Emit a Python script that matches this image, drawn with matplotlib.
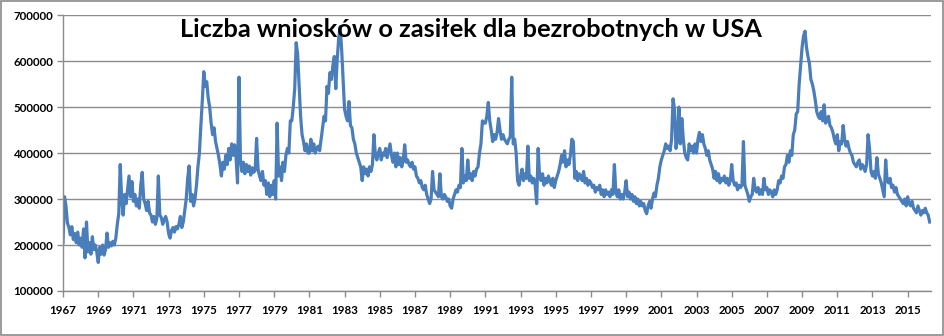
import numpy as np
import matplotlib
matplotlib.use("Agg")
from matplotlib import pyplot as plt
from matplotlib.patches import Rectangle

# weekly initial jobless claims, read off the chart roughly once a month (thousands)
years = list(range(1967, 2017))
claims = [
    [205, 305, 285, 248, 238, 222, 240, 212, 225, 205, 228, 200],  # 1967
    [215, 195, 235, 172, 250, 185, 205, 180, 218, 190, 200, 185],  # 1968
    [162, 195, 180, 200, 178, 190, 226, 195, 205, 198, 208, 200],  # 1969
    [215, 245, 268, 375, 300, 265, 310, 290, 320, 350, 305, 338],  # 1970
    [295, 310, 285, 300, 280, 330, 358, 300, 290, 275, 295, 270],  # 1971
    [265, 250, 262, 245, 258, 350, 265, 260, 245, 255, 262, 250],  # 1972
    [225, 215, 232, 238, 228, 240, 235, 245, 262, 238, 250, 275],  # 1973
    [300, 345, 372, 295, 310, 285, 300, 330, 370, 400, 460, 515],  # 1974
    [577, 545, 555, 520, 500, 465, 440, 455, 425, 410, 395, 375],  # 1975
    [350, 380, 365, 395, 375, 410, 385, 420, 395, 418, 390, 335],  # 1976
    [565, 385, 360, 380, 355, 375, 360, 372, 352, 368, 358, 362],  # 1977
    [432, 365, 350, 340, 360, 330, 340, 310, 335, 305, 330, 310],  # 1978
    [340, 300, 465, 350, 370, 340, 380, 360, 395, 410, 400, 470],  # 1979
    [470, 500, 540, 640, 615, 545, 480, 440, 425, 405, 420, 400],  # 1980
    [400, 430, 405, 420, 400, 410, 415, 405, 430, 455, 480, 470],  # 1981
    [545, 530, 575, 560, 590, 610, 540, 605, 650, 675, 625, 560],  # 1982
    [495, 480, 470, 512, 460, 455, 430, 420, 400, 390, 380, 370],  # 1983
    [340, 370, 355, 365, 350, 370, 360, 375, 440, 395, 385, 400],  # 1984
    [410, 385, 400, 395, 410, 390, 405, 420, 395, 380, 400, 370],  # 1985
    [400, 375, 390, 370, 385, 418, 380, 385, 375, 370, 380, 365],  # 1986
    [370, 350, 345, 335, 340, 325, 320, 330, 310, 300, 290, 300],  # 1987
    [360, 320, 315, 310, 305, 355, 305, 300, 310, 305, 295, 300],  # 1988
    [285, 280, 300, 310, 320, 315, 330, 325, 410, 335, 350, 340],  # 1989
    [385, 345, 355, 340, 360, 350, 365, 370, 400, 420, 470, 465],  # 1990
    [465, 480, 510, 470, 450, 425, 440, 430, 445, 475, 450, 430],  # 1991
    [440, 430, 425, 420, 430, 435, 565, 420, 430, 400, 340, 330],  # 1992
    [350, 365, 340, 355, 345, 415, 340, 350, 335, 345, 330, 290],  # 1993
    [410, 350, 340, 355, 330, 345, 335, 350, 340, 330, 345, 325],  # 1994
    [340, 350, 360, 375, 395, 380, 405, 370, 385, 375, 395, 430],  # 1995
    [425, 345, 360, 340, 355, 350, 340, 360, 335, 345, 330, 340],  # 1996
    [335, 325, 330, 315, 325, 320, 330, 310, 320, 305, 320, 310],  # 1997
    [315, 305, 320, 310, 375, 315, 305, 320, 300, 310, 300, 315],  # 1998
    [340, 305, 315, 300, 310, 295, 305, 290, 300, 285, 295, 285],  # 1999
    [290, 275, 268, 285, 295, 280, 300, 313, 305, 330, 345, 370],  # 2000
    [385, 395, 405, 420, 410, 415, 405, 430, 518, 495, 410, 430],  # 2001
    [500, 420, 475, 430, 400, 390, 385, 420, 405, 415, 400, 420],  # 2002
    [400, 430, 445, 425, 440, 420, 410, 395, 405, 385, 375, 365],  # 2003
    [345, 360, 340, 355, 335, 345, 340, 350, 335, 345, 330, 340],  # 2004
    [375, 340, 330, 335, 320, 330, 325, 330, 425, 330, 320, 310],  # 2005
    [295, 305, 310, 345, 320, 315, 325, 310, 320, 310, 345, 320],  # 2006
    [325, 310, 320, 315, 305, 320, 310, 320, 340, 335, 350, 345],  # 2007
    [370, 375, 395, 380, 405, 395, 440, 450, 485, 490, 550, 590],  # 2008
    [630, 655, 665, 630, 610, 595, 560, 550, 535, 515, 490, 480],  # 2009
    [475, 490, 470, 505, 465, 470, 480, 460, 455, 445, 430, 420],  # 2010
    [440, 405, 425, 420, 460, 430, 415, 425, 410, 400, 395, 380],  # 2011
    [375, 370, 380, 385, 365, 375, 370, 360, 375, 440, 410, 360],  # 2012
    [350, 360, 345, 390, 355, 345, 335, 320, 305, 385, 340, 335],  # 2013
    [345, 325, 330, 315, 325, 310, 305, 300, 295, 290, 300, 285],  # 2014
    [305, 290, 285, 295, 280, 275, 270, 285, 275, 265, 275, 270],  # 2015
    [280, 270, 265, 250],                                          # 2016
]

title = "Liczba wniosków o zasiłek dla bezrobotnych w USA"
x_ticks = list(range(1967, 2017, 2))
y_ticks = [100000, 200000, 300000, 400000, 500000, 600000, 700000]

x = []
y = []
for yr, row in zip(years, claims):
    for m, v in enumerate(row):
        x.append(yr + m / 12)
        y.append(v * 1000)

grid_col = "#8c8c8c"
line_col = "#4a7ebb"

fig = plt.figure(figsize=(9.45, 3.36), dpi=100)
fig.patches.append(Rectangle((0.001, 0.002), 0.997, 0.994, transform=fig.transFigure,
                             fill=False, edgecolor="#8a8a8a", linewidth=1.2))
ax = fig.add_axes([0.0667, 0.134, 0.918, 0.821])

ax.plot(x, y, color=line_col, linewidth=2.3, solid_joinstyle="round")

ax.set_xlim(1967, 2016.3)
ax.set_ylim(100000, 700000)
ax.set_xticks(x_ticks)
ax.set_xticklabels([str(t) for t in x_ticks])
ax.set_yticks(y_ticks)
ax.set_yticklabels([str(t) for t in y_ticks])

ax.grid(axis="y", color=grid_col, linewidth=1.0)
ax.set_axisbelow(True)
for s in ["top", "right"]:
    ax.spines[s].set_visible(False)
for s in ["left", "bottom"]:
    ax.spines[s].set_color(grid_col)
    ax.spines[s].set_linewidth(1.0)
ax.tick_params(axis="both", colors=grid_col, length=4, width=1.0, direction="out")
for lab in ax.get_xticklabels() + ax.get_yticklabels():
    lab.set_color("black")
    lab.set_fontfamily("Lato")
    lab.set_fontweight("bold")
    lab.set_fontsize(8.3)
ax.tick_params(axis="x", pad=6)
ax.tick_params(axis="y", pad=3)

fig.text(0.498, 0.912, title, ha="center", va="center", fontsize=18.3,
         fontweight="bold", family="Lato", color="black")

fig.savefig("out.png", dpi=100)
